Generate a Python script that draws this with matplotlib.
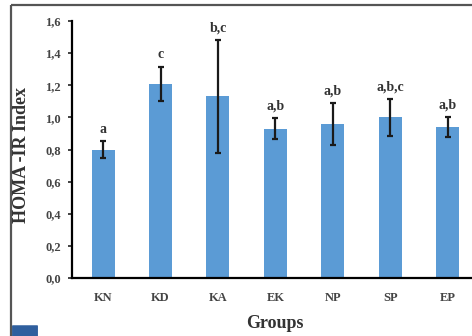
import matplotlib.pyplot as plt
from matplotlib.lines import Line2D
from matplotlib.patches import FancyBboxPatch

groups = ['KN', 'KD', 'KA', 'EK', 'NP', 'SP', 'EP']
homa = [0.80, 1.21, 1.13, 0.93, 0.96, 1.00, 0.94]
errs = [0.05, 0.105, 0.35, 0.065, 0.13, 0.115, 0.06]
letters = ['a', 'c', 'b,c', 'a,b', 'a,b', 'a,b,c', 'a,b']

plt.rcParams['font.family'] = ['Liberation Serif', 'DejaVu Serif']

fig = plt.figure(figsize=(4.72, 3.36), dpi=100)
W, H = 472, 336

# outer frame of the cropped figure (top and left edges only)
fx, fy = 11 / W, 1 - 5 / H
fig.lines.append(Line2D([fx, 1.05], [fy, fy], transform=fig.transFigure,
                        color='#555555', linewidth=1.6, solid_capstyle='butt'))
fig.lines.append(Line2D([fx, fx], [-0.05, fy], transform=fig.transFigure,
                        color='#555555', linewidth=1.6, solid_capstyle='butt'))
# partial panel label box at bottom left
fig.patches.append(FancyBboxPatch((13 / W, -0.02), 24 / W, 0.05, transform=fig.transFigure,
                                  boxstyle='round,pad=0.002', facecolor='#2f5f9e', edgecolor='none'))

ax = fig.add_axes([72 / W, 58 / H, 1.05 - 72 / W, 257 / H])
x = range(len(groups))
ax.bar(x, homa, width=0.4, color='#5b9bd5', zorder=2)
ax.errorbar(x, homa, yerr=errs, fmt='none', ecolor='#1a1a1a', elinewidth=1.6,
            capsize=2.5, capthick=1.6, zorder=3)
for i in x:
    ax.text(i, homa[i] + errs[i] + 0.035, letters[i], ha='center', va='bottom',
            fontsize=10, fontweight='bold', color='#333333')

ax.set_xlim(-0.54, 6.42 + 0.05 * W / 57.5)
ax.set_ylim(0, 1.6)
ax.set_yticks([0, 0.2, 0.4, 0.6, 0.8, 1.0, 1.2, 1.4, 1.6])
ax.set_yticklabels(['0,0', '0,2', '0,4', '0,6', '0,8', '1,0', '1,2', '1,4', '1,6'])
ax.set_xticks(list(x))
ax.set_xticklabels(groups)
ax.tick_params(axis='y', length=3, width=1.2, labelsize=9, pad=5, colors='#222222')
ax.tick_params(axis='x', length=0, labelsize=9, pad=10, colors='#222222')
for lab in ax.get_xticklabels() + ax.get_yticklabels():
    lab.set_color('#444444')
    lab.set_fontweight('bold')

ax.spines['top'].set_visible(False)
ax.spines['right'].set_visible(False)
ax.spines['left'].set_linewidth(1.6)
ax.spines['bottom'].set_linewidth(1.6)

fig.text(22 / W, 1 - 155 / H, 'HOMA -IR Index', rotation=90, ha='center', va='center',
         fontsize=13, fontweight='bold', color='#333333')
fig.text(275 / W, 1 - 323 / H, 'Groups', ha='center', va='center',
         fontsize=13, fontweight='bold', color='#333333')

fig.savefig('out.png', dpi=100)
